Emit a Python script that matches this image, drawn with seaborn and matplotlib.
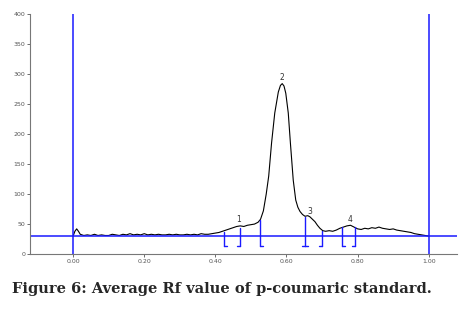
import pandas as pd
import seaborn as sns
import matplotlib.pyplot as plt

# densitometer scan of the p-coumaric standard (Rf vs signal)
rf = [0.000, 0.005, 0.010, 0.015, 0.020, 0.030, 0.040, 0.050, 0.060, 0.070,
      0.080, 0.090, 0.100, 0.110, 0.120, 0.130, 0.140, 0.150, 0.160, 0.170,
      0.180, 0.190, 0.200, 0.210, 0.220, 0.230, 0.240, 0.250, 0.260, 0.270,
      0.280, 0.290, 0.300, 0.310, 0.320, 0.330, 0.340, 0.350, 0.360, 0.370,
      0.380, 0.390, 0.400, 0.410, 0.420, 0.430, 0.440, 0.450, 0.460, 0.470,
      0.480, 0.490, 0.500, 0.510, 0.520, 0.527, 0.535, 0.543, 0.550, 0.558,
      0.567, 0.577, 0.583, 0.588, 0.593, 0.598, 0.605, 0.611, 0.619, 0.626,
      0.632, 0.638, 0.645, 0.652, 0.660, 0.666, 0.673, 0.680, 0.687, 0.694,
      0.702, 0.710, 0.720, 0.730, 0.740, 0.750, 0.760, 0.770, 0.780, 0.790,
      0.800, 0.810, 0.820, 0.830, 0.840, 0.850, 0.860, 0.870, 0.880, 0.890,
      0.900, 0.910, 0.920, 0.930, 0.940, 0.950, 0.960, 0.970, 0.980, 0.990,
      1.000]
signal = [30, 38, 42, 38, 33, 31, 32, 31, 33, 31,
          32, 31, 31, 33, 32, 31, 33, 32, 34, 32,
          33, 32, 34, 32, 33, 32, 33, 32, 32, 33,
          32, 33, 32, 32, 33, 32, 33, 32, 34, 33,
          33, 34, 35, 36, 38, 40, 42, 44, 46, 47,
          46, 48, 49, 50, 53, 58, 72, 100, 130, 185,
          235, 270, 281, 284, 280, 268, 235, 185, 123, 90,
          78, 71, 66, 63, 64, 62, 58, 54, 48, 43,
          39, 38, 39, 38, 40, 43, 45, 47, 48, 45,
          42, 41, 43, 42, 44, 43, 45, 43, 42, 41,
          42, 40, 39, 38, 37, 36, 34, 33, 32, 31,
          30]

# peak labels
peak_names = ["1", "2", "3", "4"]
peak_rf = [0.466, 0.588, 0.665, 0.778]
peak_height = [50, 286, 64, 50]

# integration limits (position, top of marker, side of foot)
limit_rf = [0.424, 0.469, 0.525, 0.652, 0.700, 0.756, 0.792]
limit_top = [36, 44, 57, 62, 39, 45, 45]
limit_side = ["r", "l", "r", "lr", "l", "r", "l"]

baseline = 30
limit_bottom = 13

df = pd.DataFrame({"Rf": rf, "Signal": signal})

sns.set_style("ticks")
fig = plt.figure(figsize=(4.7, 3.11), dpi=100)
ax = fig.add_axes([0.064, 0.183, 0.908, 0.772])

sns.lineplot(data=df, x="Rf", y="Signal", color="black", linewidth=0.8, ax=ax)

blue = "#1a1aff"
ax.axvline(0, color=blue, linewidth=1.1)
ax.axvline(1, color=blue, linewidth=1.1)
ax.axhline(baseline, color=blue, linewidth=1.1)

foot = 0.008
for x, top, side in zip(limit_rf, limit_top, limit_side):
    ax.plot([x, x], [limit_bottom, top], color=blue, linewidth=1.0)
    if "r" in side:
        ax.plot([x, x + foot], [limit_bottom, limit_bottom], color=blue, linewidth=1.0)
    if "l" in side:
        ax.plot([x - foot, x], [limit_bottom, limit_bottom], color=blue, linewidth=1.0)

for name, x, h in zip(peak_names, peak_rf, peak_height):
    ax.text(x, h, name, fontsize=5.5, ha="center", va="bottom", color="#333333")

ax.set_xlim(-0.121, 1.079)
ax.set_ylim(0, 400)
ax.set_xticks([0.0, 0.2, 0.4, 0.6, 0.8, 1.0])
ax.set_xticklabels(["0.00", "0.20", "0.40", "0.60", "0.80", "1.00"])
ax.set_yticks(range(0, 401, 50))
ax.set_xlabel("")
ax.set_ylabel("")
ax.tick_params(labelsize=4.5, colors="#555555", length=2, width=0.6, pad=1.5)
for s in ["left", "bottom"]:
    ax.spines[s].set_color("#777777")
    ax.spines[s].set_linewidth(0.8)
sns.despine(ax=ax)

fig.text(0.026, 0.071, "Figure 6: Average Rf value of p-coumaric standard.",
         fontsize=10.5, fontweight="bold", family="DejaVu Serif", va="center")

plt.savefig("out.png", dpi=100)
